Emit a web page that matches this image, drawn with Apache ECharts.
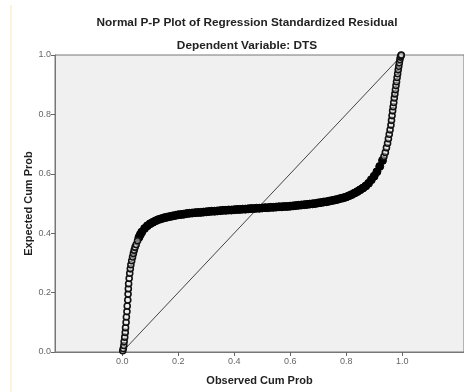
<!DOCTYPE html>
<html><head><meta charset="utf-8">
<script src="https://cdn.jsdelivr.net/npm/echarts@6/dist/echarts.min.js"></script>
<style>html,body{margin:0;padding:0;background:#fff}#c{width:464px;height:392px}</style>
</head><body><div id="c"></div>
<script>
// Sparse lower tail (observed cum prob, expected cum prob)
var obsLow = [0.002,0.004,0.006,0.007,0.009,0.011,0.012,0.014,0.015,0.017,0.018,0.020,0.021,0.022,0.023,0.025,0.027,0.029,0.031,0.034,0.037,0.040,0.043,0.046,0.050,0.055];
var expLow = [0.004,0.012,0.022,0.035,0.050,0.066,0.082,0.100,0.118,0.136,0.155,0.175,0.195,0.213,0.230,0.248,0.265,0.280,0.294,0.307,0.320,0.332,0.343,0.353,0.362,0.375];
// Dense middle band
var obsMid = [0.06,0.065,0.07,0.08,0.09,0.10,0.11,0.12,0.13,0.14,0.15,0.16,0.17,0.18,0.19,0.20,0.21,0.22,0.23,0.24,0.25,0.26,0.27,0.28,0.29,0.30,0.31,0.32,0.33,0.34,0.35,0.36,0.37,0.38,0.39,0.40,0.41,0.42,0.43,0.44,0.45,0.46,0.47,0.48,0.49,0.50,0.51,0.52,0.53,0.54,0.55,0.56,0.57,0.58,0.59,0.60,0.61,0.62,0.63,0.64,0.65,0.66,0.67,0.68,0.69,0.70,0.71,0.72,0.73,0.74,0.75,0.76,0.77,0.78,0.79,0.80,0.81,0.82,0.83,0.84,0.85,0.86,0.87,0.88,0.89,0.90,0.91,0.92,0.93];
var expMid = [0.386,0.396,0.404,0.416,0.425,0.432,0.437,0.442,0.446,0.449,0.452,0.454,0.456,0.458,0.460,0.462,0.463,0.464,0.466,0.467,0.468,0.469,0.470,0.470,0.471,0.472,0.473,0.474,0.474,0.475,0.476,0.477,0.477,0.478,0.478,0.479,0.480,0.480,0.481,0.481,0.482,0.483,0.483,0.484,0.484,0.485,0.486,0.486,0.487,0.487,0.488,0.489,0.489,0.490,0.490,0.491,0.492,0.493,0.494,0.495,0.496,0.497,0.498,0.499,0.500,0.502,0.503,0.505,0.506,0.508,0.510,0.512,0.514,0.517,0.519,0.522,0.526,0.530,0.535,0.540,0.546,0.552,0.559,0.568,0.580,0.592,0.607,0.625,0.645];
// Sparse upper tail
var obsHigh = [0.935,0.940,0.944,0.948,0.951,0.954,0.957,0.960,0.962,0.964,0.966,0.968,0.970,0.972,0.974,0.976,0.978,0.980,0.982,0.984,0.986,0.988,0.990,0.992,0.994,0.996,0.997];
var expHigh = [0.658,0.672,0.688,0.703,0.718,0.733,0.748,0.764,0.780,0.796,0.812,0.826,0.840,0.855,0.869,0.883,0.897,0.910,0.924,0.937,0.950,0.962,0.974,0.985,0.993,0.998,1.000];
// Reference diagonal
var refX = [0, 1];
var refY = [0, 1];
// Tick labels
var xTicks = [0, 0.2, 0.4, 0.6, 0.8, 1.0];

function zip(a, b) { return a.map(function (v, i) { return [v, b[i]]; }); }

var chart = echarts.init(document.getElementById('c'), null, {renderer: 'canvas'});
var F = '"Liberation Sans", Arial, sans-serif';
chart.setOption({
  animation: false,
  backgroundColor: '#ffffff',
  title: [
    {text: 'Normal P-P Plot of Regression Standardized Residual', left: 242, top: 12, textAlign: 'center',
     textStyle: {fontFamily: F, fontSize: 11.8, fontWeight: 'bold', color: '#222'}},
    {text: 'Dependent Variable: DTS', left: 242, top: 35, textAlign: 'center',
     textStyle: {fontFamily: F, fontSize: 11.8, fontWeight: 'bold', color: '#222'}}
  ],
  graphic: [{type: 'line', shape: {x1: 11, y1: 5, x2: 11, y2: 392}, style: {stroke: '#fbe7b4', lineWidth: 1}}],
  grid: {left: 55, top: 55, right: -3, bottom: 40, show: true, backgroundColor: '#f0f0f0', borderColor: '#777', borderWidth: 1},
  xAxis: {
    type: 'value', min: -0.24, max: 1.221,
    name: 'Observed Cum Prob', nameLocation: 'middle', nameGap: 23, nameMoveOverlap: false,
    nameTextStyle: {fontFamily: F, fontSize: 11, fontWeight: 'bold', color: '#222'},
    axisLine: {show: true, onZero: false, lineStyle: {color: '#777', width: 1}},
    axisTick: {show: true, customValues: xTicks, length: 4, lineStyle: {color: '#666'}},
    axisLabel: {show: true, customValues: xTicks, fontFamily: F, fontSize: 9, color: '#666', margin: 5,
      formatter: function (v) { return v.toFixed(1); }},
    splitLine: {show: false}
  },
  yAxis: {
    type: 'value', min: 0, max: 1, interval: 0.2,
    name: 'Expected Cum Prob', nameLocation: 'middle', nameGap: 21, nameRotate: 90, nameMoveOverlap: false,
    nameTextStyle: {fontFamily: F, fontSize: 11, fontWeight: 'bold', color: '#222'},
    axisLine: {show: true, onZero: false, lineStyle: {color: '#777', width: 1}},
    axisTick: {show: true, length: 4, lineStyle: {color: '#666'}},
    axisLabel: {fontFamily: F, fontSize: 9, color: '#666', margin: 4,
      formatter: function (v) { return v.toFixed(1); }},
    splitLine: {show: false}
  },
  series: [
    {type: 'line', data: zip(refX, refY), symbol: 'none', lineStyle: {color: '#444', width: 1}, silent: true, z: 1},
    {type: 'scatter', data: zip(obsMid, expMid), symbol: 'circle', symbolSize: 8,
     itemStyle: {color: '#000', borderColor: '#000', borderWidth: 1, opacity: 1}, z: 3},
    {type: 'scatter', data: zip(obsLow, expLow).concat(zip(obsHigh, expHigh)), symbol: 'circle', symbolSize: 6,
     itemStyle: {color: 'rgba(240,240,240,0.5)', borderColor: '#111', borderWidth: 1.6, opacity: 1}, z: 4}
  ]
});
</script></body></html>
